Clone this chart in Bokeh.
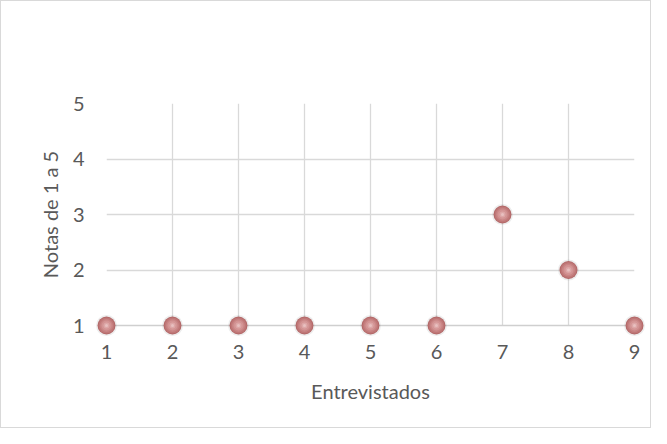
from bokeh.plotting import figure
from bokeh.models import Range1d, FixedTicker
from bokeh.embed import file_html
from bokeh.resources import INLINE

entrevistados = [1, 2, 3, 4, 5, 6, 7, 8, 9]
notas = [1, 1, 1, 1, 1, 1, 3, 2, 1]
x_ticks = [1, 2, 3, 4, 5, 6, 7, 8, 9]
y_ticks = [1, 2, 3, 4, 5]

FONT = "Lato"
TEXT = "#595959"
GRID = "#d9d9d9"

p = figure(width=651, height=428, output_backend="svg", toolbar_location=None,
           x_range=Range1d(1, 9), y_range=Range1d(1, 5),
           min_border_left=105, min_border_right=18, min_border_top=102, min_border_bottom=104,
           background_fill_color="white", border_fill_color="white")
p.styles = {"border": "1px solid #d9d9d9"}
p.outline_line_color = None

p.xgrid.ticker = FixedTicker(ticks=x_ticks)
p.ygrid.ticker = FixedTicker(ticks=y_ticks)
p.grid.grid_line_color = GRID
p.grid.grid_line_width = 1.3

for ax in (p.xaxis[0], p.yaxis[0]):
    ax.major_tick_line_color = None
    ax.minor_tick_line_color = None
    ax.major_label_text_font = FONT
    ax.major_label_text_font_size = "20px"
    ax.major_label_text_color = TEXT
    ax.axis_label_text_font = FONT
    ax.axis_label_text_font_size = "20px"
    ax.axis_label_text_font_style = "normal"
    ax.axis_label_text_color = TEXT

p.xaxis.ticker = FixedTicker(ticks=x_ticks)
p.yaxis.ticker = FixedTicker(ticks=y_ticks)
p.xaxis.axis_line_color = "#cfcfcf"
p.xaxis.axis_line_width = 1.5
p.yaxis.axis_line_color = None
p.xaxis.major_label_standoff = 13
p.yaxis.major_label_standoff = 16
p.xaxis.axis_label = "Entrevistados"
p.yaxis.axis_label = "Notas de 1 a 5"
p.xaxis.axis_label_standoff = 17
p.yaxis.axis_label_standoff = 8

layers = [
    (21, "#8c8c8c", 0.16),
    (18, "#b26868", 1.0),
    (16, "#bf7777", 1.0),
    (13, "#c98585", 1.0),
    (10, "#d39494", 1.0),
    (6, "#dda7a7", 1.0),
    (3, "#e8c0c0", 1.0),
]
for size, color, alpha in layers:
    r = p.scatter(entrevistados, notas, size=size, marker="circle",
                  fill_color=color, fill_alpha=alpha, line_color=None)
    r.level = "overlay"

open("out.html", "w").write(file_html(p, INLINE))
